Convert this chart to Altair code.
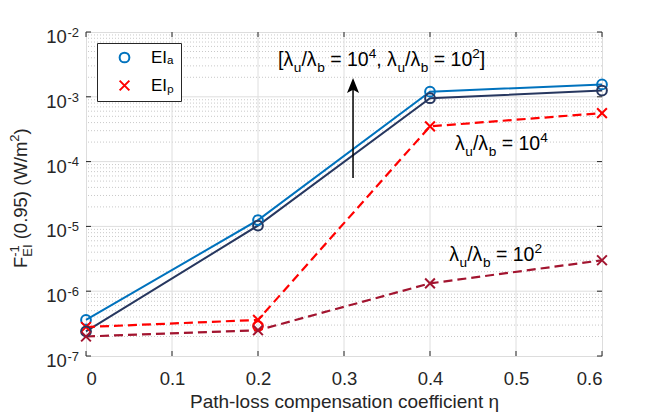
import altair as alt
import pandas as pd

FONT = "Liberation Sans"
AX = "#262626"
NB = "\u00a0"

# ---------------- data ----------------
eta = [0.0, 0.2, 0.4, 0.6]
ei_a_1e4 = [3.6e-7, 1.25e-5, 1.2e-3, 1.55e-3]   # EI_a, lambda_u/lambda_b = 1e4
ei_a_1e2 = [2.4e-7, 1.03e-5, 9.5e-4, 1.25e-3]   # EI_a, lambda_u/lambda_b = 1e2
ei_p_1e4 = [2.8e-7, 3.6e-7, 3.5e-4, 5.6e-4]     # EI_p, lambda_u/lambda_b = 1e4
ei_p_1e2 = [2.0e-7, 2.5e-7, 1.32e-6, 3.0e-6]    # EI_p, lambda_u/lambda_b = 1e2
stray_eta = [0.2]
stray_val = [2.9e-7]

series_names = ["a4", "a2", "p4", "p2", "stray"]
series_colors = ["#0072BD", "#27375F", "#FF0000", "#A2142F", "#FF0000"]
type_labels = ["EI\u2090", "EI\u209a"]
type_colors = ["#0072BD", "#FF0000"]
X_SHAPE = "M-1,-1L1,1M-1,1L1,-1"

x_ticks = [0.0, 0.1, 0.2, 0.3, 0.4, 0.5, 0.6]
y_decades = [1e-7, 1e-6, 1e-5, 1e-4, 1e-3, 1e-2]
y_exponents = ["-7", "-6", "-5", "-4", "-3", "-2"]
minor_mult = [2, 3, 4, 5, 6, 7, 8, 9]

arrow_x = [0.3105]
arrow_y0 = [5.6e-5]
arrow_y1 = [1.45e-3]
arrow_head = [1.49e-3]

W, H = 516, 324

# ---------------- tables ----------------
rows = []
for name, vals in zip(series_names[:4], [ei_a_1e4, ei_a_1e2, ei_p_1e4, ei_p_1e2]):
    t = type_labels[0] if name.startswith("a") else type_labels[1]
    for e, v in zip(eta, vals):
        rows.append({"x": e, "y": v, "series": name, "type": t})
df = pd.DataFrame(rows)
stray = pd.DataFrame({"x": stray_eta, "y": stray_val, "series": ["stray"], "type": [type_labels[0]]})

xs = alt.Scale(domain=[0, 0.6], nice=False, zero=False)
ys = alt.Scale(type="log", domain=[1e-7, 1e-2], nice=False)
xaxis = alt.Axis(values=x_ticks,
                 labelExpr="datum.value == 0 ? '0' : format(datum.value, '.1f')",
                 labelFont=FONT, labelFontSize=18.5, labelColor=AX, labelPadding=13,
                 ticks=False, tickSize=0, domain=False, grid=False,
                 title="Path-loss compensation coefficient \u03b7",
                 titleFont=FONT, titleFontSize=19, titleFontWeight="normal",
                 titleColor=AX, titleY=51.5, titleBaseline="alphabetic")


def X(f="x"):
    return alt.X(f"{f}:Q", scale=xs, axis=xaxis)


def Y(f="y"):
    return alt.Y(f"{f}:Q", scale=ys, axis=None)


stroke_enc = alt.Stroke("series:N", scale=alt.Scale(domain=series_names, range=series_colors), legend=None)

leg = alt.Legend(orient="none", legendX=11, legendY=11, title=None,
                 strokeColor=AX, fillColor="white", padding=6,
                 symbolOffset=13, labelOffset=18,
                 labelFont=FONT, labelFontSize=17, labelColor="black",
                 symbolSize=95, symbolStrokeWidth=2, rowPadding=9,
                 cornerRadius=0)

layers = []

# grid
minor_vals = [m * d for d in y_decades[:-1] for m in minor_mult]
layers.append(alt.Chart(pd.DataFrame({"y": minor_vals})).mark_rule(
    color="#c9c9c9", strokeDash=[1, 2], strokeWidth=1).encode(y=Y()))
layers.append(alt.Chart(pd.DataFrame({"y": y_decades[1:-1]})).mark_rule(
    color="#dedede", strokeWidth=1).encode(y=Y()))
layers.append(alt.Chart(pd.DataFrame({"x": x_ticks[1:-1]})).mark_rule(
    color="#dedede", strokeWidth=1).encode(x=X()))

# inward ticks
xt = pd.DataFrame({"x": x_ticks})
yt = pd.DataFrame({"y": y_decades})
layers.append(alt.Chart(xt).mark_rule(color=AX).encode(x=X(), y=alt.value(H), y2=alt.value(H - 5)))
layers.append(alt.Chart(xt).mark_rule(color=AX).encode(x=X(), y=alt.value(0), y2=alt.value(5)))
layers.append(alt.Chart(yt).mark_rule(color=AX).encode(y=Y(), x=alt.value(0), x2=alt.value(5)))
layers.append(alt.Chart(yt).mark_rule(color=AX).encode(y=Y(), x=alt.value(W), x2=alt.value(W - 5)))

# lines
layers.append(alt.Chart(df).transform_filter("indexof(datum.series, 'a') == 0").mark_line(
    strokeWidth=2).encode(x=X(), y=Y(), stroke=stroke_enc, detail="series:N"))
layers.append(alt.Chart(df).transform_filter("indexof(datum.series, 'p') == 0").mark_line(
    strokeWidth=2.2, strokeDash=[9, 5]).encode(x=X(), y=Y(), stroke=stroke_enc, detail="series:N"))

# markers: series whose colour equals the legend colour carry the legend
layers.append(alt.Chart(df).transform_filter("datum.series == 'a4' || datum.series == 'p4'").mark_point(
    filled=False, size=95, strokeWidth=2, opacity=1).encode(
    x=X(), y=Y(),
    color=alt.Color("type:N", scale=alt.Scale(domain=type_labels, range=type_colors), legend=leg),
    shape=alt.Shape("type:N", scale=alt.Scale(domain=type_labels, range=["circle", X_SHAPE]),
                    legend=leg)))
# other markers (fixed shapes, own colours)
layers.append(alt.Chart(pd.concat([df, stray], ignore_index=True)).transform_filter(
    "datum.series == 'a2' || datum.series == 'stray'").mark_point(
    shape="circle", filled=False, size=95, strokeWidth=2, opacity=1).encode(
    x=X(), y=Y(), stroke=stroke_enc))
layers.append(alt.Chart(df).transform_filter("datum.series == 'p2'").mark_point(
    shape=X_SHAPE, filled=False, size=95, strokeWidth=2, opacity=1).encode(
    x=X(), y=Y(), stroke=stroke_enc))

# arrow
adf = pd.DataFrame({"x": arrow_x, "y": arrow_y0, "y2": arrow_y1, "h": arrow_head})
layers.append(alt.Chart(adf).mark_rule(color="black", strokeWidth=1.5).encode(
    x=X(), y=Y(), y2="y2:Q"))
layers.append(alt.Chart(adf).mark_point(shape="M0,-1L0.8,1L0,0.55L-0.8,1Z", filled=True,
                                        size=225, color="black", opacity=1).encode(x=X(), y=Y("h")))

# ---------------- rich text helper ----------------
WID = {' ': .278, NB: .278, '[': .278, ']': .278, '/': .278, '=': .584, ',': .278, '.': .278,
       '(': .333, ')': .333, '-': .333, 'u': .556, 'b': .556, 'a': .556, 'p': .556,
       'm': .833, 'W': .944, 'E': .667, 'I': .278, 'F': .611, '\u03bb': .53}


def tw(s, size):
    return sum(WID.get(c, .556) for c in s) * size


def rich(segs, base, data, xenc, yenc, angle=0, color="black", small=0.7, sub=0.3, sup=0.4):
    out = []
    cur = 0.0
    sm = base * small
    for seg in segs:
        kind = seg[0]
        if kind == "n":
            parts = [(seg[1], base, 0.0)]
            adv = tw(seg[1], base)
        elif kind == "sub":
            parts = [(seg[1], sm, base * sub)]
            adv = tw(seg[1], sm)
        elif kind == "sup":
            parts = [(seg[1], sm, -base * sup)]
            adv = tw(seg[1], sm)
        else:  # subsup: (kind, subtext, suptext)
            parts = [(seg[1], sm, base * sub), (seg[2], sm, -base * sup)]
            adv = max(tw(seg[1], sm), tw(seg[2], sm))
        for text, size, dy in parts:
            stripped = text.lstrip(" " + NB)
            lead = tw(text[:len(text) - len(stripped)], size)
            kw = dict(text=stripped, align="left", baseline="alphabetic", dx=cur + lead, dy=dy,
                      fontSize=size, font=FONT, color=color)
            if angle:
                kw["angle"] = angle
            out.append(alt.Chart(data).mark_text(**kw).encode(x=xenc, y=yenc))
        cur += adv
    return out


EQ = " = 10"
lam = [("n", "\u03bb"), ("sub", "u"), ("n", "/\u03bb"), ("sub", "b")]
ann1 = [("n", "[\u03bb"), ("sub", "u"), ("n", "/\u03bb"), ("sub", "b"), ("n", EQ), ("sup", "4"),
        ("n", ","), ("n", " \u03bb"), ("sub", "u"), ("n", "/\u03bb"), ("sub", "b"), ("n", EQ), ("sup", "2"),
        ("n", "]")]
ann2 = lam + [("n", EQ), ("sup", "4")]
ann3 = lam + [("n", EQ), ("sup", "2")]

ann_pos = {"ann1": (0.2233, 2.96e-3), "ann2": (0.4291, 1.51e-4), "ann3": (0.4224, 2.92e-6)}
for key, segs in [("ann1", ann1), ("ann2", ann2), ("ann3", ann3)]:
    px, py = ann_pos[key]
    d = pd.DataFrame({"x": [px], "y": [py]})
    layers += rich(segs, 19.5, d, X(), Y())

# y tick labels
ytl = pd.DataFrame({"y": y_decades, "e": y_exponents})
layers.append(alt.Chart(ytl).mark_text(text="10", align="right", baseline="alphabetic", dy=11,
                                       fontSize=18.5, font=FONT, color=AX).encode(
    y=Y(), x=alt.value(-19.2)))
layers.append(alt.Chart(ytl).mark_text(align="left", baseline="alphabetic", dy=4.7,
                                       fontSize=13, font=FONT, color=AX).encode(
    y=Y(), x=alt.value(-18.5), text="e:N"))

# y axis title
ytitle = [("n", "F"), ("subsup", "EI", "-1"), ("n", " (0.95)"), ("n", " (W/m"), ("sup", "2"), ("n", ")")]
layers += rich(ytitle, 18.5, pd.DataFrame({"k": [0]}), alt.value(-59.3), alt.value(236),
               angle=270, color=AX)

chart = alt.layer(*layers).properties(
    width=W, height=H,
    autosize=alt.AutoSizeParams(type="none"),
    padding={"left": 78, "top": 24, "right": 54, "bottom": 56},
).configure_view(stroke=AX, strokeWidth=1.2).configure(background="white")

chart.save("out.html", embed_options={"renderer": "svg", "actions": False})
